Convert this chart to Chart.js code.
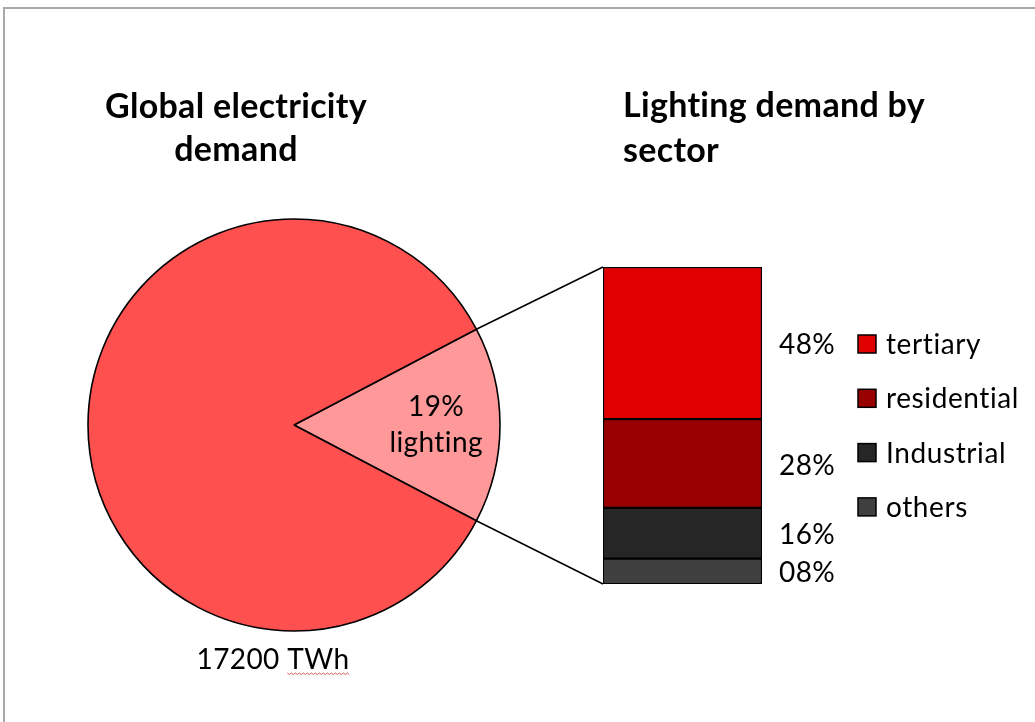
<!DOCTYPE html>
<html>
<head>
<meta charset="utf-8">
<script src="https://cdn.jsdelivr.net/npm/chart.js@4.4.0/dist/chart.umd.min.js"></script>
<style>
  body { margin: 0; background: #fff; }
  #wrap { position: relative; width: 1035px; height: 722px; overflow: hidden; }
  #frame { position: absolute; left: 3px; top: 7px; width: 1100px; height: 800px;
           border-top: 2px solid #a8a8a8; border-left: 2px solid #a8a8a8; }
  canvas { position: absolute; left: 0; top: 0; }
</style>
</head>
<body>
<div id="wrap">
  <div id="frame"></div>
  <canvas id="pie" width="1035" height="722"></canvas>
  <canvas id="bar" width="1035" height="722"></canvas>
</div>
<script>
// left pie: share of global electricity demand
const pieLabels = ["lighting", "other"];
const pieShares = [15.4, 84.6];          // slice as drawn in the picture
const pieColors = ["#FF9999", "#FF5050"];
const lightingText = ["19%", "lighting"];
const totalText = "17200 TWh";

// right bar: lighting demand by sector
const sectors = ["tertiary", "residential", "Industrial", "others"];
const sectorShares = [48, 28, 16, 8];
const sectorText = ["48%", "28%", "16%", "08%"];
const sectorColors = ["#E00000", "#990000", "#262626", "#404040"];

const leftTitle = ["Global electricity", "demand"];
const rightTitle = ["Lighting demand by", "sector"];

const FONT = "Lato, 'Open Sans', sans-serif";

// rotate so the lighting slice points to the right
var lightSpan = 360 * pieShares[0] / pieShares.reduce((a, b) => a + b, 0);

const pieText = {
    id: "pieText",
    afterDraw(chart) {
        const ctx = chart.ctx;
        const arc = chart.getDatasetMeta(0).data[0];
        const mid = (arc.startAngle + arc.endAngle) / 2;
        const r = arc.outerRadius * 0.69;
        const x = arc.x + Math.cos(mid) * r;
        const y = arc.y + Math.sin(mid) * r;
        ctx.save();
        ctx.letterSpacing = "0.4px"; // also keeps "ti" from joining
        ctx.fillStyle = "#000";
        ctx.font = "28px " + FONT;
        ctx.textAlign = "center";
        ctx.textBaseline = "middle";
        ctx.fillText(lightingText[0], x, y - 18);
        ctx.fillText(lightingText[1], x, y + 18);

        // total below the pie
        ctx.textBaseline = "alphabetic";
        const tx = arc.x - 21, ty = arc.y + arc.outerRadius + 38;
        ctx.fillText(totalText, tx, ty);
        // spell-check squiggle under "TWh"
        const full = ctx.measureText(totalText).width;
        const unit = ctx.measureText("TWh").width;
        const ux = tx + full / 2 - unit;
        ctx.strokeStyle = "#e06060";
        ctx.lineWidth = 1;
        ctx.beginPath();
        for (let i = 0; i <= unit; i += 2) {
            const yy = ty + 4 + (i % 4 === 0 ? 0 : 1.5);
            if (i === 0) ctx.moveTo(ux + i, yy); else ctx.lineTo(ux + i, yy);
        }
        ctx.stroke();
        ctx.restore();
    }
};

const pieChart = new Chart(document.getElementById("pie"), {
    type: "pie",
    data: {
        labels: pieLabels,
        datasets: [{
            data: pieShares,
            backgroundColor: pieColors,
            borderColor: "#000",
            borderWidth: 1.6
        }]
    },
    options: {
        responsive: false,
        animation: false,
        radius: 206,
        rotation: 90 - lightSpan / 2,
        layout: { padding: { left: 0, right: 447, top: 128, bottom: 0 } },
        plugins: { legend: { display: false }, tooltip: { enabled: false }, title: { display: false } }
    },
    plugins: [pieText]
});

const overlay = {
    id: "overlay",
    afterDraw(chart) {
        const ctx = chart.ctx;
        ctx.save();
        ctx.fillStyle = "#000";

        // titles
        ctx.font = "bold 34px " + FONT;
        ctx.letterSpacing = "0.3px";
        ctx.textBaseline = "alphabetic";
        ctx.textAlign = "center";
        ctx.fillText(leftTitle[0], 236, 118);
        ctx.fillText(leftTitle[1], 236, 161);
        ctx.textAlign = "left";
        ctx.fillText(rightTitle[0], 623, 117);
        ctx.fillText(rightTitle[1], 623, 162);

        // percent labels next to the bar
        ctx.font = "28px " + FONT;
        ctx.letterSpacing = "0.4px";
        ctx.textBaseline = "middle";
        let barLeft = 0, barTop = 1e9, barBottom = -1e9;
        for (let i = 0; i < sectors.length; i++) {
            const el = chart.getDatasetMeta(i).data[0];
            const top = Math.min(el.y, el.base), bot = Math.max(el.y, el.base);
            barLeft = el.x - el.width / 2;
            barTop = Math.min(barTop, top);
            barBottom = Math.max(barBottom, bot);
            ctx.fillText(sectorText[i], el.x + el.width / 2 + 17, (top + bot) / 2 + 2);
        }

        // legend
        ctx.letterSpacing = "0.6px";
        for (let i = 0; i < sectors.length; i++) {
            const cy = 344 + i * 54.3;
            ctx.fillStyle = sectorColors[i];
            ctx.fillRect(858, cy - 9, 18, 18);
            ctx.strokeStyle = "#000";
            ctx.lineWidth = 1.5;
            ctx.strokeRect(858, cy - 9, 18, 18);
            ctx.fillStyle = "#000";
            ctx.fillText(sectors[i], 886, cy + 1);
        }

        // connector lines from the lighting slice to the bar
        const arc = pieChart.getDatasetMeta(0).data[0];
        const R = arc.outerRadius;
        ctx.strokeStyle = "#000";
        ctx.lineWidth = 1.6;
        ctx.beginPath();
        ctx.moveTo(arc.x + Math.cos(arc.startAngle) * R, arc.y + Math.sin(arc.startAngle) * R);
        ctx.lineTo(barLeft, barTop);
        ctx.moveTo(arc.x + Math.cos(arc.endAngle) * R, arc.y + Math.sin(arc.endAngle) * R);
        ctx.lineTo(barLeft, barBottom);
        ctx.stroke();
        ctx.restore();
    }
};

var barSets = [];
for (i = 0; i < sectors.length; i++) {
    barSets.push({
        label: sectors[i],
        data: [sectorShares[i]],
        backgroundColor: sectorColors[i],
        borderColor: "#000",
        borderWidth: 1.5,
        borderSkipped: false,
        barPercentage: 1,
        categoryPercentage: 1
    });
}

const barChart = new Chart(document.getElementById("bar"), {
    type: "bar",
    data: { labels: ["lighting"], datasets: barSets },
    options: {
        responsive: false,
        animation: false,
        layout: { padding: { left: 603, right: 273, top: 267, bottom: 138 } },
        scales: {
            x: { display: false, stacked: true },
            y: { display: false, stacked: true, min: 0, max: 100, reverse: true }
        },
        plugins: { legend: { display: false }, tooltip: { enabled: false }, title: { display: false } }
    },
    plugins: [overlay]
});
</script>
</body>
</html>
